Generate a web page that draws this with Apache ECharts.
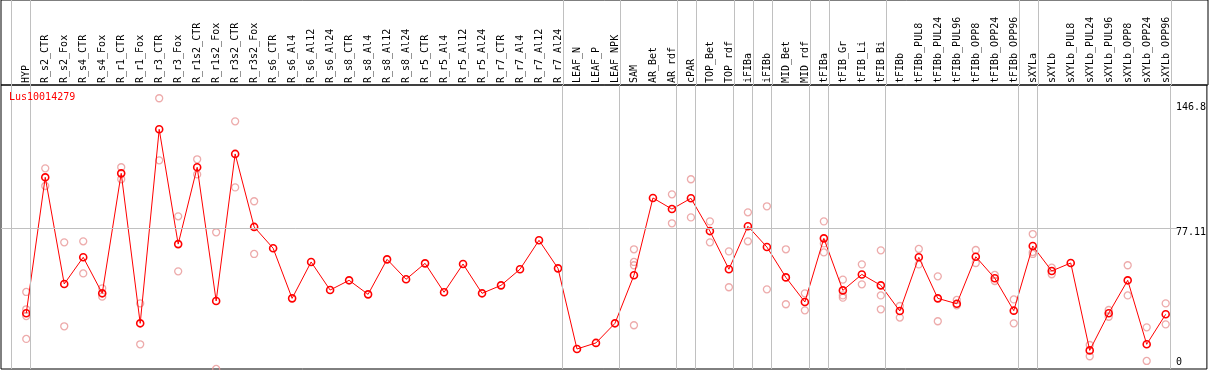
<!DOCTYPE html>
<html>
<head>
<meta charset="utf-8">
<script src="https://cdn.jsdelivr.net/npm/echarts@6/dist/echarts.min.js"></script>
<style>
html,body{margin:0;padding:0;background:#fff;}
#c{width:1209px;height:370px;}
</style>
</head>
<body>
<div id="c"></div>
<script>
const title = 'Lus10014279';
const categories = ['HYP','R_s2_CTR','R_s2_Fox','R_s4_CTR','R_s4_Fox','R_r1_CTR','R_r1_Fox','R_r3_CTR','R_r3_Fox','R_r1s2_CTR','R_r1s2_Fox','R_r3s2_CTR','R_r3s2_Fox','R_s6_CTR','R_s6_Al4','R_s6_Al12','R_s6_Al24','R_s8_CTR','R_s8_Al4','R_s8_Al12','R_s8_Al24','R_r5_CTR','R_r5_Al4','R_r5_Al12','R_r5_Al24','R_r7_CTR','R_r7_Al4','R_r7_Al12','R_r7_Al24','LEAF_N','LEAF_P','LEAF_NPK','SAM','AR_Bet','AR_rdf','cPAR','TOP_Bet','TOP_rdf','iFIBa','iFIBb','MID_Bet','MID_rdf','tFIBa','tFIB_Gr','tFIB_Li','tFIB_Bi','tFIBb','tFIBb_PUL8','tFIBb_PUL24','tFIBb_PUL96','tFIBb_OPP8','tFIBb_OPP24','tFIBb_OPP96','sXYLa','sXYLb','sXYLb_PUL8','sXYLb_PUL24','sXYLb_PUL96','sXYLb_OPP8','sXYLb_OPP24','sXYLb_OPP96'];
const means = [28.1,106.5,45.0,60.4,39.6,108.8,22.3,134.2,68.0,112.3,35.2,120.0,77.9,65.6,36.7,57.7,41.5,47.1,39.0,59.2,47.7,56.9,40.2,56.5,39.6,44.2,53.5,70.2,54.0,7.5,11.0,22.3,50.0,94.6,88.2,94.4,75.5,53.5,78.3,66.3,48.8,34.6,71.3,41.3,50.5,44.2,29.4,60.4,36.7,33.6,60.7,48.3,29.6,66.9,52.5,57.1,6.7,28.1,47.1,10.2,27.5];
const replicates = [
 [40.4,30.4,26.5,13.3],[111.7,101.5],[69.0,20.6],[69.6,51.1],[42.5,37.7],[112.3,105.4],[33.8,10.2],[152.1,116.3],[84.0,52.3],[116.9,108.2],[74.8,-4.0],[138.8,100.7],[92.7,62.3],
 [],[],[],[],[],[],[],[],[],[],[],[],[],[],[],[],[],[],[],
 [65.0,57.7,55.8,21.2],[],[96.7,80.0],[105.4,83.4],[81.1,69.0],[63.8,43.1],[86.3,69.6],[89.8,41.9],[65.0,33.3],[39.6,29.8],[81.1,68.4,63.2],[47.5,38.4,37.1],[56.3,44.8],[64.4,38.4,30.4],[32.3,25.6],
 [65.2,56.3],[49.4,23.5],[35.8,32.7],[64.6,57.1],[50.2,46.7],[36.1,22.3],[73.8,63.4,62.3],[54.4,50.6],[],[9.8,3.3],[30.0,26.1],[55.8,38.4],[20.0,0.6],[33.8,21.7]
];
const yTickLabels = [0, 77.11, 146.8];
const refLine = 77.11;
// indices of categories after which a group separator is drawn (-1 = before first)
const groupEnds = [-1,0,28,31,34,35,37,38,39,41,42,45,52,53,60];

const FONT = 'DejaVu Sans Mono';
const XMIN = -1.33, XMAX = 62.17;
const REF_END = 60.62; // reference line stops where the tick labels begin
const sepData = groupEnds.map(i => ({xAxis: i + 0.23}));
const meanData = means.map((v, i) => [i, v]);
const repData = [];
replicates.forEach((arr, i) => arr.forEach(v => repData.push([i, v])));

const chart = echarts.init(document.getElementById('c'), null, {renderer: 'canvas'});
chart.setOption({
  animation: false,
  backgroundColor: '#fff',
  title: {
    text: title, left: 9, top: 92, padding: 0,
    textStyle: {color: '#ff0000', fontSize: 10, fontFamily: FONT, fontWeight: 'normal'}
  },
  grid: [
    {left: 1, top: 85, width: 1207, height: 284, show: true, borderColor: '#000', borderWidth: 1, backgroundColor: 'transparent', containLabel: false},
    {left: 1, top: 0, width: 1207, height: 85, show: true, borderColor: '#000', borderWidth: 1, backgroundColor: 'transparent', containLabel: false},
    {left: 16.8, top: 85, width: 1159, height: 284, show: false, containLabel: false}
  ],
  xAxis: [
    {gridIndex: 0, type: 'value', min: XMIN, max: XMAX, show: false},
    {gridIndex: 1, type: 'value', min: XMIN, max: XMAX, show: false},
    {gridIndex: 2, type: 'category', data: categories, position: 'top', boundaryGap: true,
     axisLine: {show: false}, axisTick: {show: false}, splitLine: {show: false},
     axisLabel: {rotate: 90, interval: 0, margin: 2, fontSize: 10, fontFamily: FONT, color: '#000'}}
  ],
  yAxis: [
    {gridIndex: 0, type: 'value', min: -4.04, max: 159.75, position: 'right',
     axisLine: {show: false}, axisTick: {show: false}, splitLine: {show: false},
     axisLabel: {customValues: yTickLabels, inside: true, align: 'left', margin: 31,
       fontSize: 10, fontFamily: FONT, color: '#000',
       formatter: v => v === refLine ? '{m|' + v + '}' : String(v),
       rich: {m: {padding: [8, 0, 0, 0], fontSize: 10, fontFamily: FONT, color: '#000'}}}},
    {gridIndex: 1, type: 'value', min: 0, max: 1, show: false},
    {gridIndex: 2, type: 'value', min: 0, max: 1, show: false}
  ],
  series: [
    {type: 'line', xAxisIndex: 0, yAxisIndex: 0, data: [], silent: true, z: 1,
     markLine: {silent: true, symbol: 'none', animation: false, label: {show: false},
       lineStyle: {color: '#c0c0c0', width: 1, type: 'solid'},
       data: sepData.concat([[{coord: [XMIN, refLine]}, {coord: [REF_END, refLine]}]])}},
    {type: 'line', xAxisIndex: 1, yAxisIndex: 1, data: [], silent: true, z: 1,
     markLine: {silent: true, symbol: 'none', animation: false, label: {show: false},
       lineStyle: {color: '#c0c0c0', width: 1, type: 'solid'},
       data: sepData}},
    {type: 'scatter', xAxisIndex: 0, yAxisIndex: 0, data: repData, z: 3,
     symbol: 'circle', symbolSize: 7,
     itemStyle: {color: 'rgba(0,0,0,0)', borderColor: '#e89696', borderWidth: 1.3}},
    {type: 'line', xAxisIndex: 0, yAxisIndex: 0, data: meanData, z: 4,
     symbol: 'circle', symbolSize: 7, showAllSymbol: true,
     lineStyle: {color: '#ff0000', width: 1},
     itemStyle: {color: 'rgba(0,0,0,0)', borderColor: '#ff0000', borderWidth: 1.6}}
  ]
});
</script>
</body>
</html>
